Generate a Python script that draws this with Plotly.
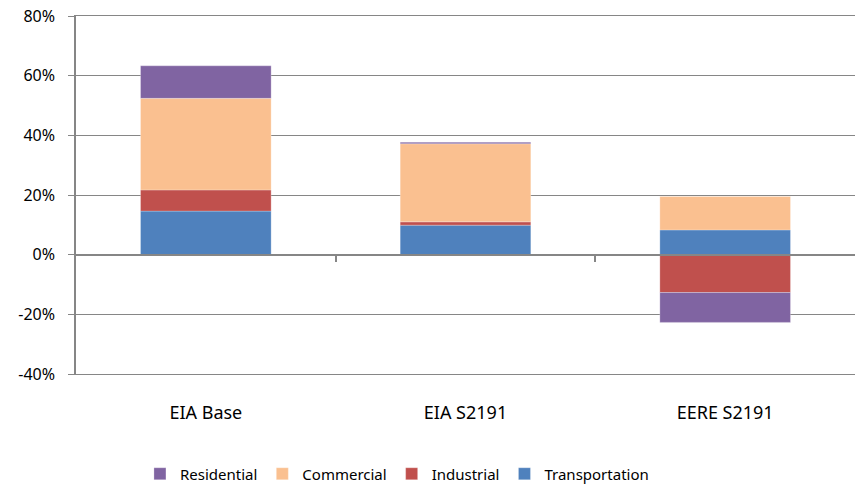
import plotly.graph_objects as go

categories = ["EIA Base", "EIA S2191", "EERE S2191"]
transportation = [14.6, 9.9, 8.3]
industrial = [7.1, 1.1, -12.7]
commercial = [30.7, 26.2, 11.2]
residential = [10.9, 0.5, -10.0]

y_tick_values = [-40, -20, 0, 20, 40, 60, 80]
y_tick_labels = ["-40%", "-20%", "0%", "20%", "40%", "60%", "80%"]

series = [
    ("Transportation", transportation, "#4F81BD"),
    ("Industrial", industrial, "#C0504D"),
    ("Commercial", commercial, "#FAC090"),
    ("Residential", residential, "#8064A2"),
]

font_family = "Noto Sans, Open Sans, Liberation Sans, sans-serif"
axis_gray = "#868686"

fig = go.Figure()
for name, vals, color in series:
    fig.add_trace(go.Bar(
        x=categories, y=vals, name=name,
        marker=dict(color=color, line=dict(color="rgba(255,255,255,0.5)", width=0.5)),
    ))

# helper (invisible) trace so the category-boundary axis at y=0 is drawn
fig.add_trace(go.Scatter(
    x=[-0.5, 2.5], y=[0, 0], xaxis="x2", mode="lines",
    line=dict(width=0, color="rgba(0,0,0,0)"),
    showlegend=False, hoverinfo="skip",
))

fig.update_layout(
    width=855, height=486,
    margin=dict(l=76, r=0, t=16, b=112, autoexpand=False),
    barmode="relative",
    bargap=0.497,
    plot_bgcolor="white",
    paper_bgcolor="white",
    font=dict(family=font_family, size=15, color="#000000"),
    showlegend=True,
    legend=dict(
        orientation="h", traceorder="reversed",
        x=0.412, xanchor="center",
        yref="container", y=1 - 474 / 486, yanchor="middle",
        font=dict(size=15), itemwidth=30,
    ),
    xaxis=dict(
        type="category",
        showline=True, mirror=True, linecolor=axis_gray, linewidth=1.2,
        showgrid=False, zeroline=False,
        ticks="outside", ticklen=22, tickcolor="rgba(0,0,0,0)",
        tickfont=dict(size=18),
    ),
    xaxis2=dict(
        type="linear", range=[-0.5, 2.5], overlaying="x",
        anchor="free", position=1/3, side="bottom",
        showline=True, linecolor=axis_gray, linewidth=1.5,
        showgrid=False, zeroline=False,
        tickvals=[0.5, 1.5], ticks="outside", ticklen=7,
        tickcolor=axis_gray, tickwidth=1.5,
        showticklabels=False,
    ),
    yaxis=dict(
        range=[-40, 80],
        tickmode="array", tickvals=y_tick_values, ticktext=y_tick_labels,
        showgrid=True, gridcolor=axis_gray, gridwidth=1.2,
        zeroline=False,
        showline=True, linecolor=axis_gray, linewidth=1.5,
        ticks="outside", ticklen=6, tickcolor=axis_gray, tickwidth=1.2,
        ticklabelstandoff=10,
        tickfont=dict(size=16),
    ),
)

fig.write_html("out.html", config={"displayModeBar": False},
               post_script="document.body.style.margin='0';")
